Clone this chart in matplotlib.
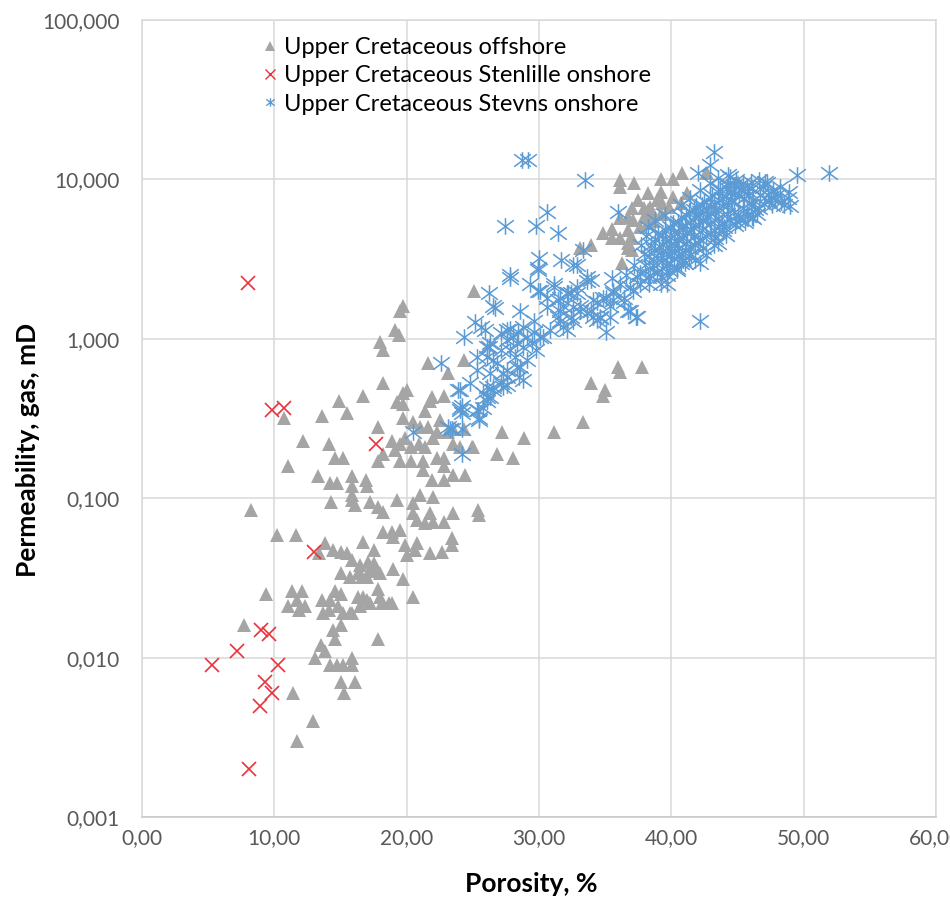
import matplotlib
matplotlib.use("Agg")
import matplotlib.pyplot as plt
from matplotlib.path import Path
from matplotlib.ticker import FixedLocator, FuncFormatter, NullLocator
from matplotlib.lines import Line2D

plt.rcParams['font.family'] = ['Lato', 'DejaVu Sans']

# ---- data: porosity (%) / gas permeability (mD) ----
offshore_points = [
    (7.7, 0.016), (8.2, 0.084), (9.4, 0.025), (10.2, 0.059), (11.6, 0.059), (10.7, 0.32), (11.0, 0.16),
    (12.2, 0.23), (14.1, 0.22), (13.6, 0.33), (15.5, 0.34), (14.9, 0.41), (16.7, 0.44), (18.2, 0.53),
    (14.6, 0.18), (15.2, 0.18), (13.3, 0.137), (14.2, 0.125), (14.7, 0.125), (15.9, 0.137), (15.9, 0.12),
    (17.0, 0.12), (16.9, 0.13), (13.4, 0.045), (14.3, 0.095), (15.9, 0.097), (16.1, 0.091), (17.2, 0.095),
    (17.8, 0.088), (18.2, 0.082), (19.3, 0.097), (20.5, 0.093), (21.0, 0.105), (22.0, 0.102),
    (20.5, 0.081), (20.8, 0.073), (21.4, 0.070), (21.8, 0.081), (22.0, 0.071), (22.8, 0.071), (23.5, 0.081),
    (25.4, 0.084), (25.5, 0.078), (18.2, 0.061), (18.9, 0.061), (19.5, 0.063), (19.0, 0.057),
    (19.9, 0.051), (20.8, 0.052), (20.6, 0.047), (20.0, 0.044), (21.8, 0.045), (22.7, 0.046), (23.4, 0.051),
    (23.4, 0.056), (16.7, 0.053), (17.5, 0.047), (13.8, 0.052), (14.4, 0.047), (15.0, 0.046), (15.5, 0.045),
    (15.9, 0.041), (16.5, 0.038), (17.1, 0.040), (17.5, 0.039), (17.2, 0.036), (15.0, 0.034), (15.7, 0.032),
    (16.3, 0.034), (17.0, 0.032), (18.0, 0.034), (19.0, 0.036), (19.7, 0.031), (20.5, 0.024),
    (17.8, 0.027), (18.0, 0.024), (18.7, 0.022), (18.1, 0.022), (17.2, 0.022), (17.0, 0.023), (16.3, 0.024),
    (16.5, 0.021), (15.9, 0.019), (13.6, 0.023), (14.2, 0.023), (14.6, 0.026), (15.0, 0.025), (14.1, 0.020),
    (13.7, 0.019), (15.2, 0.019), (15.7, 0.019), (14.8, 0.021), (11.3, 0.026), (12.1, 0.026), (11.7, 0.023),
    (11.0, 0.021), (11.9, 0.020), (12.3, 0.021), (18.9, 0.022), (15.0, 0.016), (14.4, 0.015), (14.6, 0.013),
    (17.8, 0.013), (13.5, 0.012), (13.8, 0.011), (13.1, 0.010), (14.2, 0.009), (14.7, 0.009), (15.2, 0.009),
    (15.9, 0.010), (15.9, 0.009), (15.0, 0.007), (16.1, 0.007), (15.3, 0.006), (11.4, 0.006), (12.9, 0.004),
    (11.7, 0.003), (16.6, 0.032), (17.6, 0.035), (16.7, 0.024), (15.9, 0.105),
    (19.7, 1.6), (19.5, 1.5), (19.1, 1.14), (19.4, 1.06), (18.0, 0.95), (18.2, 0.85), (21.6, 0.71),
    (19.7, 0.46), (19.3, 0.40), (19.7, 0.39), (21.8, 0.41), (21.9, 0.43), (21.4, 0.35), (22.8, 0.44),
    (17.8, 0.28), (19.7, 0.32), (20.5, 0.30), (21.0, 0.28), (21.6, 0.28), (22.0, 0.24), (22.5, 0.31),
    (23.1, 0.26), (18.9, 0.23), (19.5, 0.22), (20.3, 0.21), (20.9, 0.22), (21.4, 0.21), (19.9, 0.24),
    (19.1, 0.20), (17.8, 0.17), (18.2, 0.19), (19.5, 0.17), (20.3, 0.17), (21.2, 0.17), (22.3, 0.18),
    (22.8, 0.16), (21.9, 0.13), (22.8, 0.13), (23.5, 0.14), (24.4, 0.14), (21.2, 0.15), (23.5, 0.22),
    (24.0, 0.21), (25.0, 0.21), (25.1, 2.0), (24.3, 0.74), (23.1, 0.61), (20.0, 0.48), (23.5, 0.27),
    (22.3, 0.26), (24.3, 0.27), (27.2, 0.26), (28.9, 0.24), (24.9, 0.21), (26.8, 0.19), (28.0, 0.18),
    (22.8, 0.18), (33.9, 0.53), (33.3, 0.30), (31.1, 0.26), (36.0, 0.67), (36.1, 0.62), (37.8, 0.67),
    (35.0, 0.48), (34.8, 0.44),
    (36.1, 9.9), (36.1, 9.0), (37.2, 9.5), (39.2, 10.0), (40.1, 10.0), (40.8, 11.0), (42.7, 11.0),
    (38.2, 8.2), (37.5, 7.4), (39.2, 8.3), (37.0, 6.6), (37.9, 6.6), (38.5, 6.4), (39.3, 7.1), (38.9, 7.4),
    (36.1, 5.7), (36.7, 5.8), (34.8, 4.6), (35.5, 4.9), (35.5, 4.3), (36.1, 4.3), (36.7, 4.0), (37.0, 4.3),
    (33.1, 3.7), (33.9, 3.9), (36.3, 3.0), (37.9, 5.8), (38.2, 5.3), (38.6, 5.5), (39.2, 6.1), (39.8, 6.7),
    (40.1, 7.8), (40.7, 7.1), (41.2, 8.2), (36.7, 4.8), (37.1, 5.6), (36.7, 3.7), (37.0, 3.6),
    (38.2, 6.4), (38.6, 6.1), (37.6, 5.0), (38.4, 6.7), (42.6, 11.0), (45.0, 9.7),
]

stenlille_points = [
    (8.0, 2.25), (9.8, 0.36), (10.7, 0.37), (17.7, 0.22), (13.0, 0.046), (9.0, 0.015), (9.6, 0.014),
    (7.2, 0.011), (5.3, 0.009), (10.3, 0.009), (9.3, 0.007), (9.8, 0.006), (8.9, 0.005), (8.1, 0.002),
]

stevns_points = [
    (28.7, 13.2), (29.2, 13.2), (33.5, 9.9), (27.4, 5.1), (29.8, 5.1), (30.6, 6.2), (31.4, 4.6),
    (31.7, 3.1), (30.0, 3.2), (27.8, 2.5), (43.2, 14.8), (49.5, 10.7), (51.9, 11.0), (42.2, 1.3),
    (36.0, 6.2), (29.9, 2.8), (32.9, 2.9), (33.9, 2.35), (35.5, 2.4), (33.3, 3.6),
    (26.2, 1.95), (29.3, 2.2), (29.9, 2.0), (31.1, 2.1), (32.4, 1.95), (30.6, 1.8),
    (26.5, 1.6), (28.6, 1.5), (31.6, 1.5), (32.6, 1.3), (33.6, 1.45), (34.6, 1.35), (35.1, 1.1),
    (37.3, 1.37), (36.4, 1.7), (36.9, 1.5), (35.6, 1.75),
    (25.6, 1.18), (26.3, 0.94), (27.1, 1.09), (27.6, 1.14), (28.0, 1.03), (28.8, 0.89), (29.5, 0.94),
    (30.3, 1.03), (30.8, 1.14), (31.4, 1.37), (31.8, 1.19),
    (26.1, 0.77), (26.8, 0.71), (27.6, 0.64), (28.6, 0.67), (29.1, 0.74), (29.8, 0.85), (28.5, 0.58),
    (27.1, 0.53), (26.1, 0.50), (26.3, 0.43), (25.8, 0.37), (25.5, 0.31),
    (26.7, 1.56), (25.2, 1.27), (24.3, 1.02), (22.6, 0.71), (23.9, 0.48), (24.2, 0.38), (24.2, 0.34),
    (25.4, 0.36), (23.4, 0.27), (24.2, 0.19), (20.5, 0.26),
    (25.9, 1.13), (26.2, 0.89), (26.5, 0.74), (27.1, 0.85), (27.8, 0.85), (28.3, 0.94), (27.8, 1.16),
    (28.4, 1.1), (29.1, 1.03), (29.6, 1.1), (30.1, 1.03), (28.2, 0.77), (27.6, 0.58), (28.8, 0.55),
    (26.5, 0.50), (25.8, 0.46), (24.8, 0.53), (25.3, 0.64), (27.3, 0.50),
    (30.6, 1.58), (32.6, 1.58), (34.4, 1.32), (31.6, 1.8), (32.9, 1.93), (33.6, 2.3),
    (29.9, 2.7), (32.6, 2.9), (27.8, 2.4), (30.1, 2.0), (31.1, 2.2), (31.4, 1.75), (32.2, 1.95),
    (24.0, 0.48), (27.6, 0.51), (24.0, 0.36), (26.1, 0.43), (26.5, 0.48), (23.3, 0.27), (24.2, 0.27),
    (23.1, 0.28),
    (25.3, 0.77), (26.1, 0.89), (27.6, 0.98), (28.8, 1.19), (29.6, 1.3), (26.3, 0.61), (27.3, 0.61),
    (28.3, 0.67), (25.3, 0.36), (25.5, 0.32), (24.0, 0.37), (26.1, 0.41),
    # dense core around 38-46 % porosity
    (38.8, 4.2), (38.7, 3.6), (38.9, 3.2), (38.6, 2.9),
    (39.3, 4.5), (39.4, 3.9), (39.2, 3.5), (39.4, 3.1), (39.3, 2.8),
    (39.9, 5.0), (40.0, 4.3), (39.8, 3.8), (40.0, 3.35), (39.9, 3.0),
    (40.5, 5.4), (40.6, 4.7), (40.4, 4.2), (40.5, 3.7), (40.6, 3.3),
    (41.1, 6.0), (41.0, 5.2), (41.2, 4.6), (41.1, 4.0), (41.0, 3.6),
    (41.7, 6.4), (41.8, 5.7), (41.6, 5.0), (41.7, 4.4), (41.8, 3.9),
    (42.3, 6.9), (42.2, 6.2), (42.4, 5.5), (42.3, 4.8), (42.2, 4.2),
    (42.9, 7.6), (43.0, 6.7), (42.8, 6.0), (42.9, 5.3), (43.0, 4.6),
    (43.5, 8.3), (43.6, 7.4), (43.4, 6.5), (43.5, 5.7), (43.6, 5.0),
    (44.2, 8.8), (44.1, 7.9), (44.3, 6.9), (44.2, 6.1),
    (44.7, 9.2), (44.8, 8.2), (44.6, 7.2), (44.7, 6.2),
    (45.4, 9.5), (45.3, 8.6), (45.5, 7.6), (45.4, 6.6),
    (46.0, 9.6), (46.1, 8.8), (45.9, 8.0), (46.0, 6.9),
    (39.0, 4.6), (39.6, 4.1), (40.2, 4.7), (40.8, 5.0), (41.4, 5.4), (42.0, 5.9), (42.6, 6.4),
    (43.2, 7.0), (43.8, 7.6), (44.4, 8.3), (45.0, 8.9), (45.7, 9.1),
    (40.2, 3.2), (40.8, 3.4), (41.4, 3.7), (42.0, 4.0), (42.6, 4.4), (43.2, 4.8), (43.8, 5.3),
    (44.4, 5.6), (45.0, 6.0), (45.7, 6.3), (46.3, 6.5), (47.0, 7.0),
    (39.6, 2.9), (41.3, 3.3), (43.9, 4.8), (45.2, 5.6), (46.5, 6.1), (47.5, 7.8), (48.3, 7.2),
    (46.9, 9.0), (48.9, 8.3), (49.0, 6.8),
    (39.1, 3.8), (39.7, 3.4), (40.3, 3.9), (40.9, 4.3), (41.5, 4.8), (42.1, 5.2), (42.7, 5.8),
    (43.3, 6.2), (43.9, 6.8), (44.5, 7.4), (45.1, 8.0), (45.8, 8.4),
    (39.5, 4.8), (40.1, 5.3), (40.7, 5.8), (41.3, 6.3), (41.9, 6.8), (42.5, 7.3), (43.1, 8.0),
    (43.7, 8.7), (44.3, 9.3), (44.9, 9.9),
    (38.5, 3.9), (38.3, 3.3), (38.9, 2.6), (39.8, 2.7), (40.7, 3.0), (41.5, 3.4), (42.4, 3.7),
    (43.3, 4.3), (44.0, 5.0), (44.9, 5.5), (45.8, 5.9), (46.6, 6.6), (47.4, 7.3), (48.0, 8.0),
    (37.9, 3.4), (37.7, 3.9), (38.1, 4.4), (38.3, 2.2), (37.2, 2.9), (36.6, 2.5),
    (46.6, 9.9), (47.1, 9.6), (47.7, 8.6), (48.5, 6.9), (48.8, 7.6), (48.2, 8.9), (47.3, 8.0),
    (47.8, 7.4), (46.7, 8.0), (46.2, 5.7), (45.6, 5.4), (44.8, 5.2), (44.1, 4.5), (43.2, 3.9),
    (42.6, 3.35), (41.8, 3.1), (41.0, 3.0), (40.4, 2.7), (39.7, 2.5), (39.2, 2.2), (38.4, 2.5),
    (38.0, 2.9), (37.6, 2.6), (37.4, 2.45), (36.9, 2.1), (36.1, 2.2), (35.6, 2.0), (35.1, 1.8),
    (35.4, 1.6), (34.4, 1.7), (33.9, 1.5), (33.1, 1.5), (34.6, 1.37), (32.4, 1.37), (31.6, 1.3),
    (32.1, 1.14), (38.2, 5.0), (38.8, 5.6), (39.5, 6.0), (40.7, 6.9), (41.4, 7.6), (42.2, 8.6),
    (42.9, 9.5), (43.5, 10.2), (44.3, 10.6), (42.9, 12.3), (42.0, 11.0), (44.4, 10.3), (46.2, 7.4),
    (46.1, 5.8), (43.5, 4.0), (42.2, 3.0), (47.6, 6.9), (47.2, 9.5),
    (32.1, 1.95), (32.9, 2.1), (33.6, 2.45), (34.1, 1.75), (34.8, 1.8), (35.6, 1.95), (36.4, 1.8),
    (37.1, 2.0), (37.6, 2.2), (38.2, 2.45), (38.6, 2.8), (39.2, 2.45), (39.7, 2.2), (40.4, 2.8),
    (40.9, 3.1), (36.7, 1.5), (37.4, 1.37), (35.4, 1.37), (34.1, 1.37), (33.1, 1.6), (31.8, 1.6),
]

series_labels = [
    "Upper Cretaceous offshore",
    "Upper Cretaceous Stenlille onshore",
    "Upper Cretaceous Stevns onshore",
]
x_ticks = [0, 10, 20, 30, 40, 50, 60]
y_ticks = [0.001, 0.01, 0.1, 1, 10, 100]

# ---- styling ----
GRAY = "#A5A5A5"
RED = "#E8323C"
BLUE = "#5B9BD5"
GRID = "#D9D9D9"
TICK_TXT = "#595959"

# asterisk marker: an "x" crossed by a vertical stroke
star_path = Path(
    [(-1, -0.75), (1, 0.75), (-1, 0.75), (1, -0.75), (0, -1), (0, 1)],
    [Path.MOVETO, Path.LINETO, Path.MOVETO, Path.LINETO, Path.MOVETO, Path.LINETO],
)

fig = plt.figure(figsize=(9.5, 8.99), dpi=100)
ax = fig.add_axes([142 / 950, 82 / 899, 794 / 950, 797 / 899])

def split(points):
    return [p[0] for p in points], [p[1] for p in points]

ox, oy = split(offshore_points)
sx, sy = split(stenlille_points)
vx, vy = split(stevns_points)

ax.plot(ox, oy, linestyle="none", marker="^", markersize=9.5, color=GRAY,
        markeredgewidth=0, zorder=3)
ax.plot(sx, sy, linestyle="none", marker="x", markersize=9.5, color=RED,
        markeredgewidth=1.2, zorder=4)
ax.plot(vx, vy, linestyle="none", marker=star_path, markersize=12, color=BLUE,
        markeredgewidth=1.1, fillstyle="none", zorder=5)

ax.set_yscale("log")
ax.set_xlim(0, 60)
ax.set_ylim(0.001, 100)

ax.xaxis.set_major_locator(FixedLocator(x_ticks))
ax.yaxis.set_major_locator(FixedLocator(y_ticks))
ax.yaxis.set_minor_locator(NullLocator())
ax.xaxis.set_major_formatter(FuncFormatter(lambda v, p: f"{v:.2f}".replace(".", ",")))
ax.yaxis.set_major_formatter(FuncFormatter(lambda v, p: f"{v:.3f}".replace(".", ",")))

ax.grid(True, which="major", color=GRID, linewidth=1.1)
ax.set_axisbelow(True)
for side in ["top", "right", "left", "bottom"]:
    ax.spines[side].set_color(GRID)
    ax.spines[side].set_linewidth(1.1)
ax.spines["bottom"].set_color("#C8C8C8")
ax.tick_params(axis="both", length=0, labelsize=15, labelcolor=TICK_TXT)
ax.tick_params(axis="y", pad=16)
ax.tick_params(axis="x", pad=8)

# axis titles placed in figure coordinates
fig.text(531 / 950, 1 - 884 / 899, "Porosity, %", fontsize=19, fontweight="bold",
         ha="center", va="center")
fig.text(28 / 950, 1 - 450 / 899, "Permeability, gas, mD", fontsize=19, fontweight="bold",
         ha="center", va="center", rotation=90)

handles = [
    Line2D([], [], linestyle="none", marker="^", markersize=7, color=GRAY, markeredgewidth=0),
    Line2D([], [], linestyle="none", marker="x", markersize=7, color=RED, markeredgewidth=1.0),
    Line2D([], [], linestyle="none", marker=star_path, markersize=6, color=BLUE, markeredgewidth=1.0),
]
leg = ax.legend(handles, series_labels, loc="upper left", bbox_to_anchor=(0.14, 0.99),
                frameon=False, fontsize=17, handlelength=0.6, handletextpad=0.3,
                labelspacing=0.3, borderaxespad=0)

fig.savefig("out.png", dpi=100, facecolor="white")
